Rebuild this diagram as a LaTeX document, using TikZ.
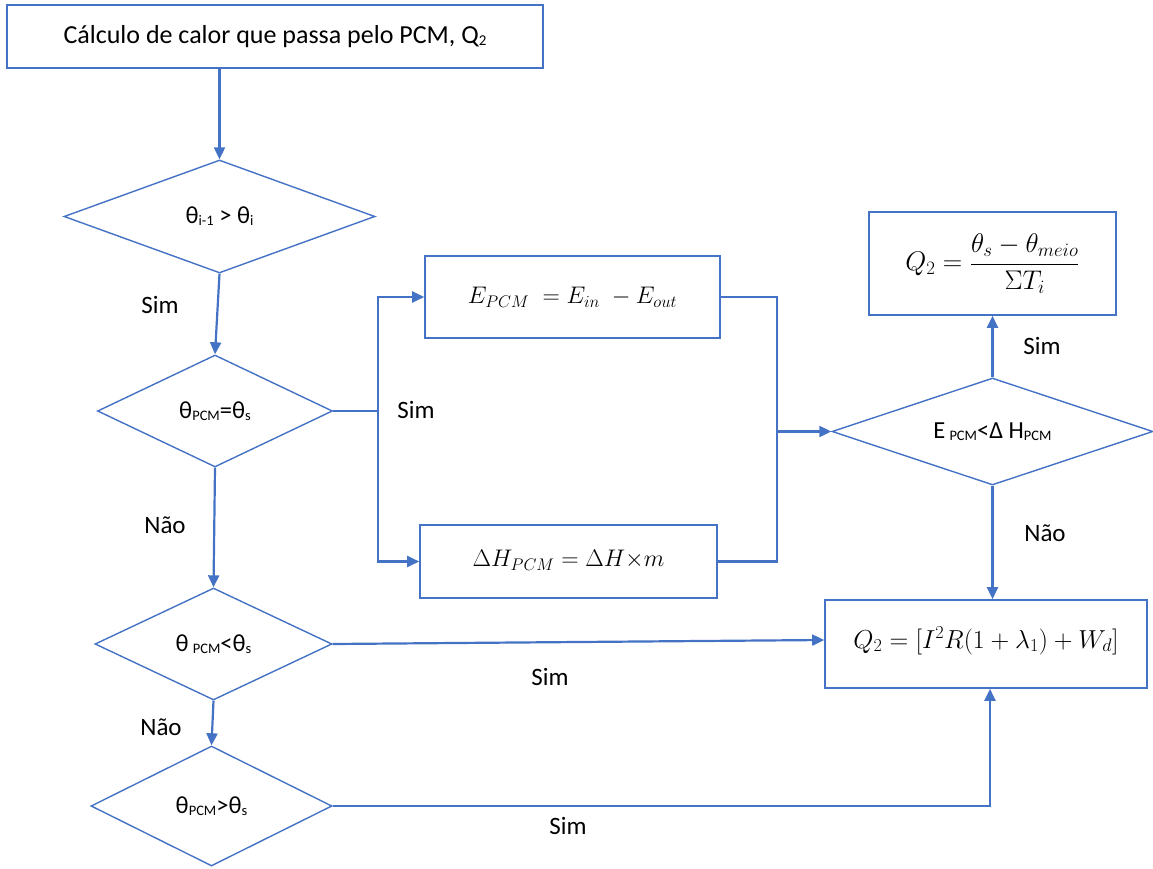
\documentclass[tikz,border=0pt]{standalone}
\usepackage{fix-cm}
\usepackage{fontspec}
\setmainfont{Carlito}
\usetikzlibrary{shapes.geometric,arrows.meta}
\definecolor{fblue}{HTML}{4472C4}
\newcommand\sbx[1]{\raisebox{-2pt}{\fontsize{14.5}{14.5}\selectfont #1}}
\begin{document}
\begin{tikzpicture}[x=1pt,y=-1pt,
  box/.style={draw=fblue,line width=1.6pt,rectangle,inner sep=0pt},
  dia/.style={draw=fblue,line width=1.4pt,diamond,aspect=2.5,inner sep=0pt},
  conn/.style={draw=fblue,line width=2.2pt},
  arr/.style={conn,-{Triangle[length=12pt,width=11pt]}},
  lbl/.style={font=\fontsize{25}{30}\selectfont},
  dtxt/.style={font=\fontsize{24.5}{28}\selectfont},
  mtxt/.style={font=\fontsize{24}{28}\selectfont}]
\useasboundingbox (0,0) rectangle (1153,869);
% boxes
\node[box,minimum width=536pt,minimum height=63pt,font=\fontsize{26}{30}\selectfont] (top) at (275,36.5) {Cálculo de calor que passa pelo PCM, Q\raisebox{-2pt}{\fontsize{15}{15}\selectfont 2}};
\node[box,minimum width=295pt,minimum height=82pt,mtxt] (eb) at (572.5,297) {$E_{PCM}\;=E_{in}\;-E_{out}$};
\node[box,minimum width=297pt,minimum height=73pt,mtxt] (hb) at (568.5,561.5) {\raisebox{6pt}{$\Delta H_{PCM}=\Delta H{\times}m$}};
\node[box,minimum width=247pt,minimum height=103pt,font=\fontsize{27}{30}\selectfont] (qa) at (992.5,263.5) {\raisebox{7pt}{$\displaystyle Q_2=\frac{\theta_s-\theta_{meio}}{\Sigma T_i}$}};
\node[box,minimum width=322pt,minimum height=88pt,font=\fontsize{26}{30}\selectfont] (qb) at (986,644) {\raisebox{13pt}{$Q_2=[I^2R(1+\lambda_1)+W_d]$}};
% diamonds
\node[dia,minimum width=311pt,minimum height=113pt,dtxt] (d1) at (219.5,216.5) {θ\sbx{i-1} > θ\sbx{i}};
\node[dia,minimum width=235pt,minimum height=112pt,dtxt] (d2) at (215,411) {θ\sbx{PCM}=θ\sbx{s}};
\node[dia,minimum width=321pt,minimum height=107pt,dtxt] (d3) at (992.5,431.5) {E\,\sbx{PCM}<Δ H\sbx{PCM}};
\node[dia,minimum width=237pt,minimum height=112pt,dtxt] (d4) at (213.5,644) {θ\,\sbx{PCM}<θ\sbx{s}};
\node[dia,minimum width=241pt,minimum height=120pt,dtxt] (d5) at (211.5,806) {θ\sbx{PCM}>θ\sbx{s}};
% junctions
\coordinate (j1) at (378,411);
\coordinate (j2) at (777,431.5);
% connectors
\draw[arr] (d1.north |- top.south) -- (d1.north);
\draw[arr] (d1.south) -- (d2.north);
\draw[arr] (d2.south) -- (d4.north);
\draw[arr] (d4.south) -- (d5.north);
\draw[conn] (d2.east) -- (j1);
\draw[arr] (j1) |- (eb.west);
\draw[arr] (j1) |- (hb.west);
\draw[conn] (eb.east) -| (j2);
\draw[conn] (hb.east) -| (j2);
\draw[arr] (j2) -- (d3.west);
\draw[arr] (d3.north) -- (qa.south);
\draw[arr] (d3.south) -- (d3.south |- qb.north);
\draw[arr] (d4.east) -- ([yshift=4pt]qb.west);
\draw[arr] (d5.east) -| ([xshift=4pt]qb.south);
% labels
\node[lbl] (s1) at (160,305) {Sim};
\node[lbl] (s2) at (416,410) {Sim};
\node[lbl] (n1) at (165,525) {Não};
\node[lbl] (s3) at (1042,346) {Sim};
\node[lbl] (n2) at (1045,533) {Não};
\node[lbl] (s4) at (550,677) {Sim};
\node[lbl] (n3) at (161,727) {Não};
\node[lbl] (s5) at (568,826) {Sim};
\end{tikzpicture}
\end{document}
